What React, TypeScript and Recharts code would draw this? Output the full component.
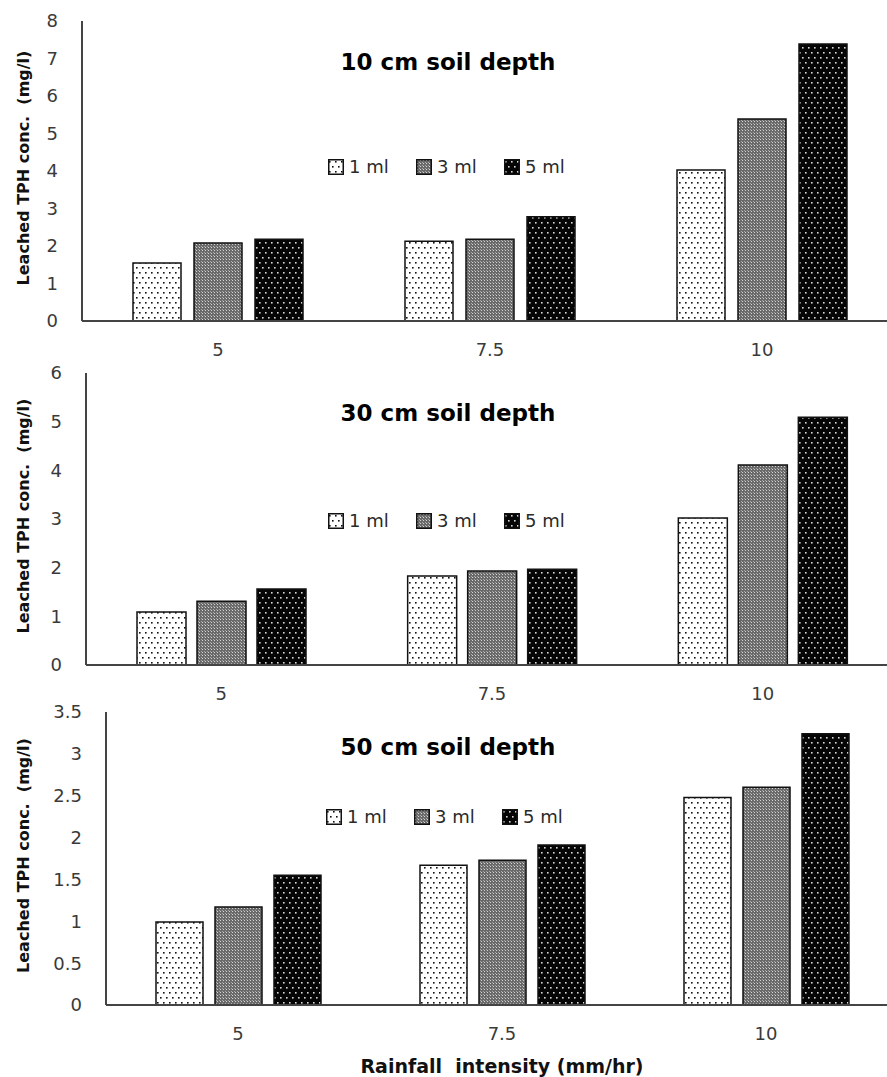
import React from "react";
import { BarChart, Bar, XAxis, YAxis } from "recharts";

const categories = ["5", "7.5", "10"];
const seriesNames = ["1 ml", "3 ml", "5 ml"];

// 10 cm soil depth
const depth10_1ml = [1.55, 2.13, 4.03];
const depth10_3ml = [2.08, 2.18, 5.39];
const depth10_5ml = [2.18, 2.78, 7.39];

// 30 cm soil depth
const depth30_1ml = [1.09, 1.83, 3.02];
const depth30_3ml = [1.31, 1.93, 4.11];
const depth30_5ml = [1.56, 1.97, 5.09];

// 50 cm soil depth
const depth50_1ml = [0.99, 1.67, 2.48];
const depth50_3ml = [1.17, 1.73, 2.6];
const depth50_5ml = [1.55, 1.91, 3.24];

const ticks10 = [0, 1, 2, 3, 4, 5, 6, 7, 8];
const ticks30 = [0, 1, 2, 3, 4, 5, 6];
const ticks50 = [0, 0.5, 1, 1.5, 2, 2.5, 3, 3.5];

const Y_LABEL = "Leached TPH conc.  (mg/l)";
const X_LABEL = "Rainfall  intensity (mm/hr)";
const FONT = "'DejaVu Sans', Verdana, sans-serif";
const PATTERNS = ["url(#pat1)", "url(#pat3)", "url(#pat5)"];

function buildRows(a: number[], b: number[], c: number[]) {
  return categories.map((cat, i) => ({ cat, s1: a[i], s3: b[i], s5: c[i] }));
}

function PatternDefs() {
  return (
    <svg width={0} height={0} style={{ position: "absolute" }}>
      <defs>
        <pattern id="pat1" width={6} height={10} patternUnits="userSpaceOnUse">
          <rect width={6} height={10} fill="#ffffff" />
          <rect x={1} y={2} width={1.6} height={1.6} fill="#111" />
          <rect x={4} y={7} width={1.6} height={1.6} fill="#111" />
        </pattern>
        <pattern id="pat3" width={3} height={3} patternUnits="userSpaceOnUse">
          <rect width={3} height={3} fill="#6a6a6a" />
          <rect x={1} y={1} width={1} height={1} fill="#d4d4d4" />
          <rect x={0} y={0} width={1} height={1} fill="#a8a8a8" />
        </pattern>
        <pattern id="pat5" width={6} height={10} patternUnits="userSpaceOnUse">
          <rect width={6} height={10} fill="#050505" />
          <rect x={1} y={2} width={1.6} height={1.6} fill="#d8d8d8" />
          <rect x={4} y={7} width={1.6} height={1.6} fill="#d8d8d8" />
        </pattern>
      </defs>
    </svg>
  );
}

interface PanelProps {
  top: number;
  height: number;
  axisX: number;
  marginTop: number;
  marginBottom: number;
  rows: { cat: string; s1: number; s3: number; s5: number }[];
  yMax: number;
  yTicks: number[];
  barSize: number;
  barGap: number;
  title: string;
  titleY: number;
  legendY: number;
  legendX: number;
  xTitle?: boolean;
}

function Panel(p: PanelProps) {
  const tickStyle = { fontSize: 18, fill: "#3a3a3a", fontFamily: FONT };
  return (
    <div style={{ position: "absolute", left: 0, top: p.top, width: 910, height: p.height }}>
      <BarChart
        width={910}
        height={p.height}
        data={p.rows}
        margin={{ top: p.marginTop, right: 12, bottom: p.marginBottom, left: 0 }}
        barSize={p.barSize}
        barGap={p.barGap}
      >
        <XAxis
          dataKey="cat"
          height={30}
          tickLine={false}
          tickMargin={16}
          axisLine={{ stroke: "#444", strokeWidth: 2 }}
          tick={tickStyle}
          label={
            p.xTitle
              ? {
                  content: (lp: any) => (
                    <text
                      x={lp.viewBox.x + lp.viewBox.width / 2}
                      y={lp.viewBox.y + lp.viewBox.height + 38}
                      textAnchor="middle"
                      fontFamily={FONT}
                      fontWeight="bold"
                      fontSize={19}
                      fill="#111"
                      style={{ whiteSpace: "pre" }}
                    >
                      {X_LABEL}
                    </text>
                  ),
                }
              : undefined
          }
        />
        <YAxis
          width={p.axisX}
          domain={[0, p.yMax]}
          ticks={p.yTicks}
          interval={0}
          tickLine={false}
          tickMargin={18}
          axisLine={{ stroke: "#444", strokeWidth: 2 }}
          tick={tickStyle}
          label={{
            content: (lp: any) => {
              const cy = lp.viewBox.y + lp.viewBox.height / 2 - 3;
              return (
                <text
                  x={23}
                  y={cy}
                  transform={`rotate(-90, 23, ${cy})`}
                  textAnchor="middle"
                  dominantBaseline="central"
                  fontFamily={FONT}
                  fontWeight="bold"
                  fontSize={16}
                  fill="#111"
                  style={{ whiteSpace: "pre" }}
                >
                  {Y_LABEL}
                </text>
              );
            },
          }}
        />
        <Bar dataKey="s1" name={seriesNames[0]} fill={PATTERNS[0]} stroke="#111" strokeWidth={1.5} isAnimationActive={false} />
        <Bar dataKey="s3" name={seriesNames[1]} fill={PATTERNS[1]} stroke="#111" strokeWidth={1.5} isAnimationActive={false} />
        <Bar dataKey="s5" name={seriesNames[2]} fill={PATTERNS[2]} stroke="#111" strokeWidth={1.5} isAnimationActive={false} />
      </BarChart>
      <div
        style={{
          position: "absolute",
          left: 448,
          top: p.titleY - 15,
          transform: "translateX(-50%)",
          fontFamily: FONT,
          fontWeight: "bold",
          fontSize: 23,
          color: "#000",
          whiteSpace: "nowrap",
          lineHeight: "30px",
        }}
      >
        {p.title}
      </div>
      <div
        style={{
          position: "absolute",
          left: p.legendX,
          top: p.legendY - 11,
          display: "flex",
          alignItems: "center",
          fontFamily: FONT,
          fontSize: 18,
          color: "#2a2a2a",
          lineHeight: "22px",
          whiteSpace: "nowrap",
        }}
      >
        {seriesNames.map((name, i) => (
          <div key={name} style={{ display: "flex", alignItems: "center", width: i < 2 ? 88 : "auto" }}>
            <svg width={16} height={16} style={{ marginRight: 5 }}>
              <rect x={0.75} y={0.75} width={14.5} height={14.5} fill={PATTERNS[i]} stroke="#111" strokeWidth={1.5} />
            </svg>
            <span>{name}</span>
          </div>
        ))}
      </div>
    </div>
  );
}

export default function App() {
  return (
    <div
      style={{
        position: "absolute",
        left: 0,
        top: 0,
        width: 887,
        height: 1077,
        overflow: "hidden",
        background: "#fff",
      }}
    >
      <PatternDefs />
      <Panel
        top={0}
        height={372}
        axisX={82}
        marginTop={21}
        marginBottom={21}
        rows={buildRows(depth10_1ml, depth10_3ml, depth10_5ml)}
        yMax={8}
        yTicks={ticks10}
        barSize={48}
        barGap={13}
        title="10 cm soil depth"
        titleY={62}
        legendY={167}
        legendX={328}
      />
      <Panel
        top={360}
        height={352}
        axisX={86}
        marginTop={13}
        marginBottom={17}
        rows={buildRows(depth30_1ml, depth30_3ml, depth30_5ml)}
        yMax={6}
        yTicks={ticks30}
        barSize={49}
        barGap={11}
        title="30 cm soil depth"
        titleY={53}
        legendY={161}
        legendX={328}
      />
      <Panel
        top={700}
        height={377}
        axisX={106}
        marginTop={12}
        marginBottom={42}
        rows={buildRows(depth50_1ml, depth50_3ml, depth50_5ml)}
        yMax={3.5}
        yTicks={ticks50}
        barSize={47}
        barGap={12}
        title="50 cm soil depth"
        titleY={47}
        legendY={117}
        legendX={326}
        xTitle
      />
    </div>
  );
}
